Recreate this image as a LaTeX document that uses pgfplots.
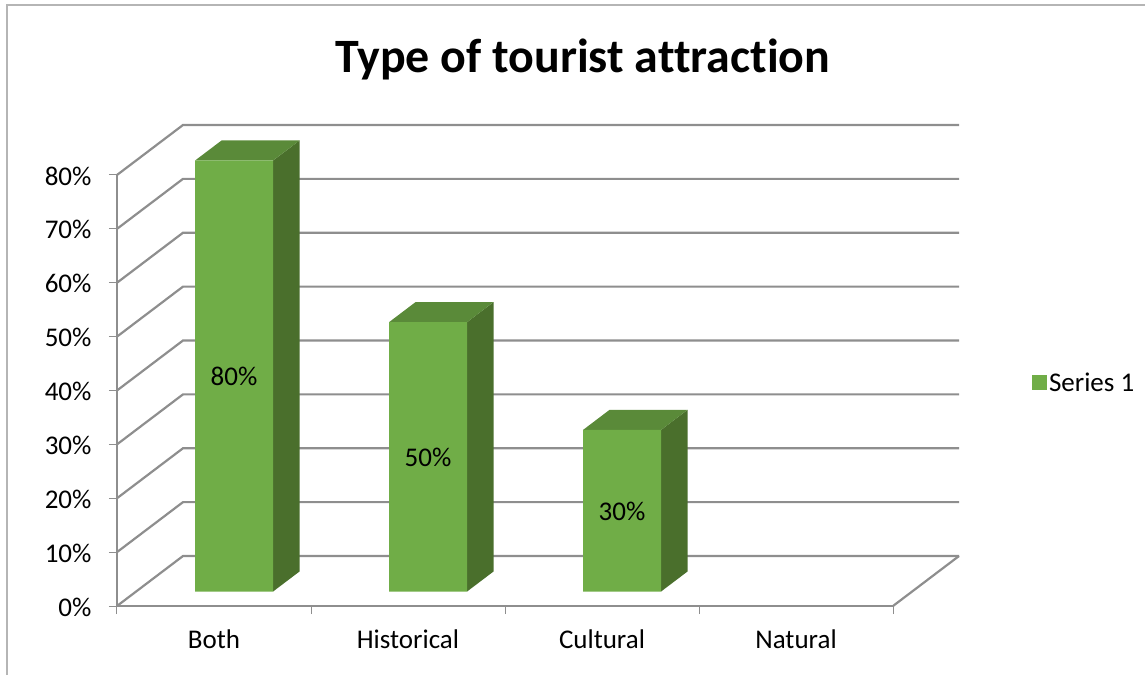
\documentclass[border=0pt]{standalone}
\usepackage{fontspec}
\setmainfont[Ligatures=NoCommon]{Carlito}
\usepackage{pgfplots}
\pgfplotsset{compat=1.18}

\definecolor{barfront}{HTML}{70AD47}
\definecolor{bartop}{HTML}{5A8A39}
\definecolor{barside}{HTML}{4A6F2C}
\definecolor{gridgray}{HTML}{8E8E8E}
\definecolor{framegray}{HTML}{B5B5B5}

% rows are x, value, depth: depth 1 is the back wall
\pgfkeys{/pgfplots/table/oblique/.style={
  x expr=\thisrow{x}+\thisrow{d}*66/194,
  y expr=\thisrow{y}+\thisrow{d}*50/5.3875,
  row sep=\\}}

% side and top of a bar: left edge, right edge, value
\newcommand\barfaces[3]{
  \addplot[fill=barside,draw=none,forget plot] table[oblique]
    {x y d\\ #2 #3 0.29\\ #2 #3 0.69\\ #2 0 0.69\\ #2 0 0.29\\};
  \addplot[fill=bartop,draw=none,forget plot] table[oblique]
    {x y d\\ #1 #3 0.29\\ #1 #3 0.69\\ #2 #3 0.69\\ #2 #3 0.29\\};
}

\begin{document}
\begin{tikzpicture}
\path[use as bounding box] (-117pt,-69pt) rectangle (1028pt,606pt);
\draw[framegray,line width=1.5pt] (-110pt,-69pt) -- (-110pt,601pt) -- (1028pt,601pt);
\begin{axis}[
  x=194pt, y=5.3875pt,
  xmin=0, xmax=4, ymin=0, ymax=80,
  clip=false,
  axis x line=bottom, axis y line=left,
  axis line style={-,draw=gridgray,line width=2.2pt},
  xtick={0,1,2,3,4},
  x tick label as interval,
  xticklabels={Both,Historical,Cultural,Natural},
  ytick={0,10,...,80},
  yticklabel={\pgfmathprintnumber{\tick}\%},
  /pgf/number format/assume math mode=true,
  tick align=outside,
  major tick length=8pt,
  tick style={draw=gridgray,line width=1pt},
  every tick label/.append style={font=\fontsize{27}{31}\selectfont},
  xticklabel style={yshift=-12.5pt},
  yticklabel style={xshift=-14pt,yshift=-1pt},
  title={\textbf{Type of tourist attraction}},
  title style={at={(rel axis cs:0.6,1.2545)},anchor=center,font=\fontsize{47.9}{54}\selectfont},
  legend style={at={(axis cs:4.70,41.4)},anchor=west,draw=none,fill=none,
    font=\fontsize{27}{31}\selectfont},
]
\pgfplotsinvokeforeach{0,10,...,80}{
  \addplot[gridgray,line width=2.2pt,forget plot] table[oblique]
    {x y d\\ 0 #1 0\\ 0 #1 1\\ 4 #1 1\\};
}
\addplot[gridgray,line width=2.2pt,forget plot] table[oblique]
  {x y d\\ 4 0 0\\ 4 0 1\\};

\barfaces{0.304}{0.706}{80}
\barfaces{1.304}{1.706}{50}
\barfaces{2.304}{2.706}{30}

\addplot[ybar,bar width=78pt,bar shift=0pt,fill=barfront,draw=none,
  xshift=19.1pt,yshift=14.5pt,
  legend image code/.code={\fill[barfront] (-8pt,-21.5pt) rectangle (7pt,-6.5pt);},
  visualization depends on={y \as \rawy},
  nodes near coords={\pgfmathprintnumber{\pgfplotspointmeta}\%},
  nodes near coords style={anchor=center,yshift=-\rawy*2.69pt-1pt,
    font=\fontsize{27}{31}\selectfont,text=black},
] coordinates {(0.505,80) (1.505,50) (2.505,30)};
\legend{Series 1}
\end{axis}
\end{tikzpicture}
\end{document}
